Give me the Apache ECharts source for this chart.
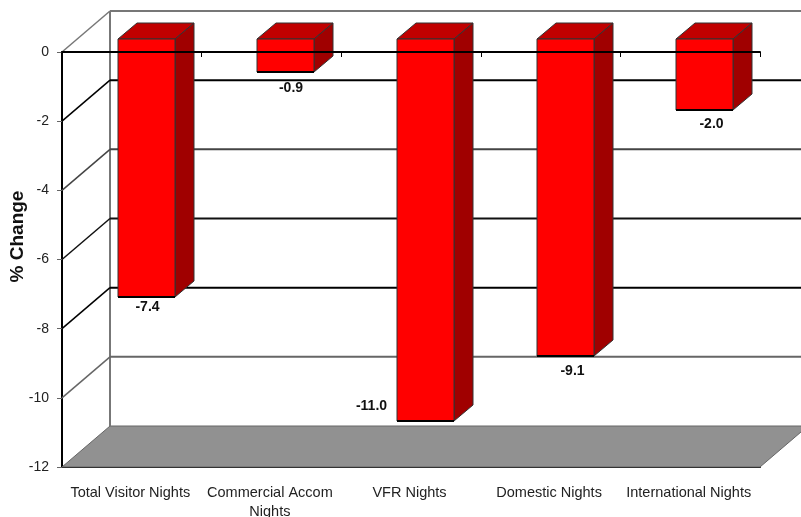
<!DOCTYPE html>
<html>
<head>
<meta charset="utf-8">
<style>
  html, body { margin: 0; padding: 0; background: #fff; }
  #chart { width: 801px; height: 517px; }
</style>
</head>
<body>
<div id="chart"></div>
<script src="https://cdn.jsdelivr.net/npm/echarts@6/dist/echarts.min.js"></script>
<script>
const categories = ['Total Visitor Nights', 'Commercial Accom\nNights', 'VFR Nights', 'Domestic Nights', 'International Nights'];
const changes = [-7.4, -0.9, -11.0, -9.1, -2.0];
const gridValues = [0, -2, -4, -6, -8, -10];
const gridColors = ['#777', '#000', '#444', '#111', '#000', '#666'];

// 3d look: back wall offset, bar shift and bar depth, in px
const WALL_DX = 48, WALL_DY = -41;
const BAR_DX = 14.5, BAR_TOP_DY = -13, BAR_BOTTOM_DY = -11;
const DEPTH_DX = 19, DEPTH_DY = -16;
const BAR_W = 57;
// value labels sit by hand around the bars
const LABEL_DX = [1, 5.5, -54, 7, 7];
const LABEL_DY = [10, 16, -15, 15, 14];

const myChart = echarts.init(document.getElementById('chart'), null, { renderer: 'canvas' });

const floorItem = (params, api) => {
  const cs = params.coordSys;
  const l = cs.x, r = cs.x + cs.width, b = cs.y + cs.height;
  return {
    type: 'group',
    children: [
      { type: 'polygon', shape: { points: [[l, b], [r, b], [r + WALL_DX, b + WALL_DY], [l + WALL_DX, b + WALL_DY]] },
        style: { fill: '#919191', stroke: '#666', lineWidth: 1 } },
      { type: 'line', shape: { x1: l + WALL_DX, y1: cs.y + WALL_DY, x2: l + WALL_DX, y2: b + WALL_DY },
        style: { stroke: '#777', lineWidth: 2 } }
    ]
  };
};

const gridItem = (params, api) => {
  const cs = params.coordSys;
  const l = cs.x, r = cs.x + cs.width;
  const y = api.coord([0, api.value(0)])[1];
  const color = gridColors[params.dataIndex];
  return {
    type: 'group',
    children: [
      { type: 'line', shape: { x1: l, y1: y, x2: l + WALL_DX, y2: y + WALL_DY }, style: { stroke: color, lineWidth: 1.5 } },
      { type: 'line', shape: { x1: l + WALL_DX, y1: y + WALL_DY, x2: r + WALL_DX, y2: y + WALL_DY }, style: { stroke: color, lineWidth: 2 } }
    ]
  };
};

const barItem = (params, api) => {
  const i = params.dataIndex;
  const p0 = api.coord([api.value(0), 0]);
  const p1 = api.coord([api.value(0), api.value(1)]);
  const x1 = Math.round(p0[0] + BAR_DX - BAR_W / 2), x2 = x1 + BAR_W;
  const y1 = Math.round(p0[1] + BAR_TOP_DY), y2 = Math.round(p1[1] + BAR_BOTTOM_DY);
  const edge = { stroke: '#333', lineWidth: 1 };
  return {
    type: 'group',
    children: [
      { type: 'polygon', shape: { points: [[x1, y1], [x2, y1], [x2 + DEPTH_DX, y1 + DEPTH_DY], [x1 + DEPTH_DX, y1 + DEPTH_DY]] },
        style: { fill: '#c00000', ...edge } },
      { type: 'polygon', shape: { points: [[x2, y1], [x2 + DEPTH_DX, y1 + DEPTH_DY], [x2 + DEPTH_DX, y2 + DEPTH_DY], [x2, y2]] },
        style: { fill: '#a00000', ...edge } },
      { type: 'rect', shape: { x: x1, y: y1, width: BAR_W, height: y2 - y1 },
        style: { fill: '#ff0000', ...edge } },
      { type: 'line', shape: { x1: x1, y1: y2, x2: x2, y2: y2 }, style: { stroke: '#000', lineWidth: 2 } },
      { type: 'text', x: (x1 + x2) / 2 + LABEL_DX[i], y: y2 + LABEL_DY[i],
        style: { text: api.value(1).toFixed(1), fill: '#111', font: 'bold 14px "Liberation Sans"', align: 'center', verticalAlign: 'middle' } }
    ]
  };
};

const option = {
  animation: false,
  backgroundColor: '#fff',
  textStyle: { fontFamily: '"Liberation Sans", Arial, sans-serif' },
  grid: { left: 62, right: 41, top: 52, bottom: 50, outerBoundsMode: 'none' },
  xAxis: [
    {
      type: 'category', data: categories, position: 'bottom',
      axisLine: { onZero: false, lineStyle: { color: '#000', width: 2 } },
      axisTick: { show: false },
      axisLabel: { color: '#222', fontSize: 14.5, margin: 16, interval: 0, lineHeight: 19, padding: [0, 3, 0, 0] }
    },
    {
      // zero line with its small inner ticks, drawn over the bars
      type: 'category', data: categories, position: 'top', z: 20,
      axisLine: { onZero: false, lineStyle: { color: '#000', width: 2 } },
      axisTick: { show: true, inside: true, length: 5, lineStyle: { color: '#000', width: 1 } },
      axisLabel: { show: false }
    }
  ],
  yAxis: {
    type: 'value', min: -12, max: 0, interval: 2,
    name: '% Change', nameLocation: 'middle', nameGap: 35, nameMoveOverlap: false,
    nameTextStyle: { color: '#111', fontSize: 19, fontWeight: 'bold', padding: [0, 0, 0, 46] },
    axisLine: { show: true, onZero: false, lineStyle: { color: '#000', width: 2 } },
    axisTick: { show: true, length: 5, lineStyle: { color: '#666', width: 1 } },
    axisLabel: { color: '#222', fontSize: 14, margin: 13 },
    splitLine: { show: false }
  },
  series: [
    { type: 'custom', renderItem: floorItem, data: [0], z: 1, silent: true },
    { type: 'custom', renderItem: gridItem, data: gridValues.map(v => [v]), encode: { y: 0 }, z: 2, silent: true },
    { type: 'custom', renderItem: barItem, data: changes.map((v, i) => [i, v]), encode: { x: 0, y: 1 }, z: 3 }
  ]
};

myChart.setOption(option);
window.addEventListener('resize', () => myChart.resize());
</script>
</body>
</html>
